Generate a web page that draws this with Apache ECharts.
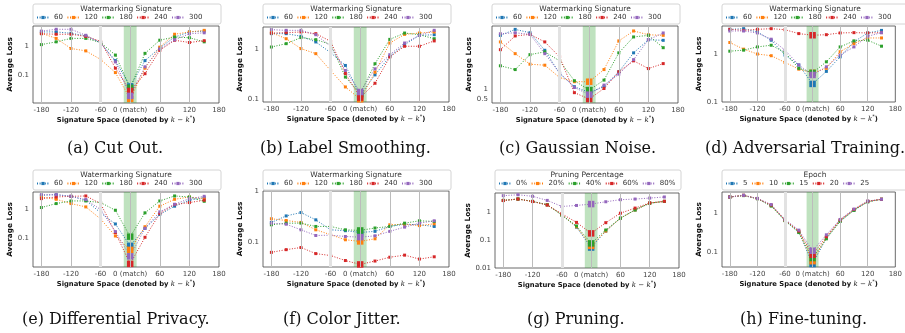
<!DOCTYPE html>
<html>
<head>
<meta charset="utf-8">
<script src="https://cdn.jsdelivr.net/npm/echarts@6/dist/echarts.min.js"></script>
<style>
  html, body { margin: 0; padding: 0; background: #fff; }
  #chart { width: 905px; height: 333px; }
</style>
</head>
<body>
<div id="chart"></div>
<script>
// signature offsets k - k*
const xSteps = [-180, -150, -120, -90, -60, -30, 0, 30, 60, 90, 120, 150];
const xTicks = [-180, -120, -60, 0, 60, 120, 180];
const guideLines = [-180, -120, -60, 0, 60, 120];

const sigNames = ['60', '120', '180', '240', '300'];
const pruneNames = ['0%', '20%', '40%', '60%', '80%'];
const epochNames = ['5', '10', '15', '20', '25'];
const colors = ['#1f77b4', '#ff7f0e', '#2ca02c', '#d62728', '#9467bd'];

// one row per legend entry
const cutOut = [
  [3.0, 3.0, 2.7, 2.2, 1.25, 0.31, 0.040, 0.31, 0.85, 2.0, 3.0, 3.2],
  [2.7, 1.8, 0.81, 0.67, 0.34, 0.12, 0.015, 0.17, 0.9, 2.5, 3.0, 3.4],
  [1.1, 1.37, 1.8, 1.8, 1.3, 0.48, 0.036, 0.55, 1.56, 2.0, 1.9, 1.37],
  [2.6, 2.5, 2.5, 2.1, 1.44, 0.17, 0.028, 0.11, 0.7, 1.55, 1.3, 1.5],
  [3.2, 3.7, 3.7, 2.3, 1.27, 0.28, 0.019, 0.19, 0.78, 1.6, 2.6, 2.8],
];
const labelSmoothing = [
  [2.1, 2.1, 1.86, 1.43, 0.87, 0.48, 0.12, 0.31, 0.73, 1.26, 1.94, 2.0],
  [2.2, 1.66, 1.05, 0.83, 0.38, 0.177, 0.10, 0.35, 1.36, 2.03, 2.16, 2.27],
  [1.13, 1.32, 1.75, 1.59, 1.28, 0.28, 0.13, 0.52, 1.61, 2.16, 2.0, 1.66],
  [2.16, 2.2, 2.27, 2.1, 1.47, 0.33, 0.108, 0.21, 0.71, 1.17, 1.17, 1.5],
  [2.53, 2.45, 2.45, 2.0, 1.17, 0.38, 0.14, 0.41, 0.79, 1.36, 1.94, 2.45],
];
const gaussianNoise = [
  [3.7, 4.0, 3.83, 2.95, 1.78, 1.12, 0.83, 1.12, 1.87, 2.82, 3.48, 3.45],
  [3.37, 2.78, 2.25, 2.2, 1.58, 1.37, 1.37, 1.98, 3.42, 3.92, 3.73, 3.7],
  [2.17, 1.98, 2.73, 2.87, 2.42, 1.42, 0.95, 1.45, 2.82, 3.62, 3.7, 3.08],
  [2.98, 3.67, 3.75, 3.37, 2.62, 0.82, 0.5, 1.03, 1.87, 2.42, 2.03, 2.28],
  [3.78, 3.83, 3.75, 2.78, 1.82, 1.08, 0.72, 1.2, 1.75, 2.48, 3.48, 3.82],
];
const adversarial = [
  [3.37, 3.48, 2.96, 1.99, 0.97, 0.6, 0.24, 0.44, 0.89, 1.84, 2.83, 3.2],
  [1.78, 1.29, 1.02, 0.94, 0.68, 0.49, 0.41, 0.51, 1.14, 1.69, 2.22, 2.22],
  [1.17, 1.23, 1.44, 1.56, 1.1, 0.51, 0.41, 0.7, 1.44, 1.93, 1.99, 1.49],
  [3.37, 3.2, 3.37, 3.48, 3.31, 2.74, 2.53, 2.6, 2.83, 2.87, 2.83, 2.87],
  [3.11, 3.11, 2.83, 2.09, 1.23, 0.6, 0.37, 0.55, 0.97, 1.44, 2.41, 2.87],
];
const diffPrivacy = [
  [3.0, 3.16, 2.77, 2.03, 0.75, 0.31, 0.055, 0.22, 0.66, 1.27, 2.03, 2.5],
  [2.63, 2.19, 1.56, 1.2, 0.46, 0.12, 0.04, 0.25, 1.27, 2.19, 2.63, 2.31],
  [1.14, 1.56, 1.92, 1.92, 1.69, 0.92, 0.114, 0.75, 1.92, 2.85, 2.63, 1.87],
  [2.31, 2.63, 2.77, 2.85, 1.56, 0.156, 0.0132, 0.108, 0.71, 1.44, 1.69, 2.03],
  [3.16, 3.16, 2.77, 2.14, 0.97, 0.17, 0.024, 0.22, 0.81, 1.48, 2.31, 2.77],
];
const colorJitter = [
  [0.245, 0.33, 0.385, 0.276, 0.175, 0.168, 0.155, 0.163, 0.204, 0.226, 0.22, 0.204],
  [0.29, 0.268, 0.245, 0.175, 0.14, 0.111, 0.103, 0.116, 0.22, 0.226, 0.212, 0.23],
  [0.22, 0.237, 0.237, 0.204, 0.204, 0.175, 0.17, 0.19, 0.204, 0.237, 0.264, 0.256],
  [0.0625, 0.0707, 0.078, 0.059, 0.054, 0.043, 0.036, 0.042, 0.05, 0.055, 0.046, 0.051],
  [0.237, 0.226, 0.175, 0.135, 0.137, 0.129, 0.125, 0.133, 0.163, 0.198, 0.237, 0.264],
];
const pruning = [
  [2.64, 2.95, 2.43, 1.84, 0.8, 0.29, 0.054, 0.21, 0.61, 1.2, 2.1, 2.43],
  [2.64, 2.95, 2.43, 1.84, 0.8, 0.30, 0.062, 0.21, 0.61, 1.2, 2.1, 2.43],
  [2.64, 2.95, 2.43, 1.84, 0.78, 0.32, 0.076, 0.23, 0.61, 1.2, 2.1, 2.43],
  [2.6, 2.95, 2.4, 1.8, 0.87, 0.43, 0.174, 0.42, 0.92, 1.4, 2.15, 2.45],
  [3.9, 4.2, 3.7, 2.64, 1.6, 1.74, 1.95, 2.36, 2.8, 2.95, 3.2, 3.5],
];
const fineTuning = [
  [2.67, 2.95, 2.42, 1.6, 0.66, 0.33, 0.049, 0.23, 0.64, 1.22, 2.02, 2.33],
  [2.67, 2.95, 2.42, 1.62, 0.67, 0.34, 0.058, 0.24, 0.66, 1.25, 2.05, 2.33],
  [2.67, 2.9, 2.42, 1.55, 0.65, 0.32, 0.07, 0.22, 0.62, 1.2, 2.0, 2.33],
  [2.67, 2.95, 2.45, 1.65, 0.68, 0.35, 0.085, 0.25, 0.68, 1.27, 2.07, 2.33],
  [2.67, 2.95, 2.45, 1.7, 0.7, 0.37, 0.108, 0.28, 0.7, 1.3, 2.1, 2.33],
];

// 面板布局
const panels = [
  { rows: cutOut, names: sigNames, title: 'Watermarking Signature', caption: '(a) Cut Out.', log: true, yMin: 0.0108, yMax: 4.8, yLabels: [0.1, 1], left: 33, top: 26, w: 186, h: 77, capX: 67 },
  { rows: labelSmoothing, names: sigNames, title: 'Watermarking Signature', caption: '(b) Label Smoothing.', log: true, yMin: 0.088, yMax: 2.86, yLabels: [0.1, 1], left: 263, top: 27, w: 186, h: 75, capX: 260 },
  { rows: gaussianNoise, names: sigNames, title: 'Watermarking Signature', caption: '(c) Gaussian Noise.', log: false, yMin: 0.3, yMax: 4.17, yLabels: [0.5, 1], left: 492, top: 26, w: 186, h: 77, capX: 499 },
  { rows: adversarial, names: sigNames, title: 'Watermarking Signature', caption: '(d) Adversarial Training.', log: true, yMin: 0.1, yMax: 3.96, yLabels: [0.1, 1], left: 722, top: 26, w: 186, h: 76, capX: 705 },
  { rows: diffPrivacy, names: sigNames, title: 'Watermarking Signature', caption: '(e) Differential Privacy.', log: true, yMin: 0.0103, yMax: 3.9, yLabels: [0.1, 1], left: 33, top: 192, w: 186, h: 75, capX: 22 },
  { rows: colorJitter, names: sigNames, title: 'Watermarking Signature', caption: '(f) Color Jitter.', log: true, yMin: 0.032, yMax: 1.03, yLabels: [0.1, 1], left: 263, top: 191, w: 186, h: 76, capX: 283 },
  { rows: pruning, names: pruneNames, title: 'Pruning Percentage', caption: '(g) Pruning.', log: true, yMin: 0.01, yMax: 4.86, yLabels: [0.01, 0.1, 1], left: 495, top: 193, w: 184, h: 75, capX: 527 },
  { rows: fineTuning, names: epochNames, title: 'Epoch', caption: '(h) Fine-tuning.', log: true, yMin: 0.041, yMax: 3.6, yLabels: [0.1, 1], left: 722, top: 192, w: 186, h: 75, capX: 740 },
];

const sans = '"DejaVu Sans", sans-serif';

function pickLabel(labels, v) {
  for (const l of labels) {
    if (Math.abs(v - l) < l * 1e-6) return String(l);
  }
  return '';
}

const grid = [];
const xAxis = [];
const yAxis = [];
const legend = [];
const series = [];
const graphic = [];

panels.forEach((p, i) => {
  const row = i < 4 ? 0 : 1;
  const boxTop = row === 0 ? 4 : 170;

  grid.push({
    left: p.left, top: p.top, width: p.w, height: p.h,
    show: true, borderColor: '#444', borderWidth: 0.8, backgroundColor: '#fff',
  });

  xAxis.push({
    type: 'value', gridIndex: i, min: -197, max: 180,
    axisLine: { show: false }, axisTick: { show: false }, splitLine: { show: false },
    axisLabel: {
      customValues: xTicks,
      formatter: v => (v === 0 ? '0 (match)' : String(v)),
      fontSize: 7, color: '#444', fontFamily: sans, margin: 4,
    },
    name: '{b|Signature Space (denoted by }{i|k − k}{s|*}{b|)}',
    nameLocation: 'middle', nameGap: 12,
    nameTextStyle: {
      rich: {
        b: { fontSize: 6.8, fontWeight: 'bold', fontFamily: sans, color: '#111' },
        i: { fontSize: 7, fontStyle: 'italic', fontFamily: '"DejaVu Serif", serif', color: '#111' },
        s: { fontSize: 5, fontFamily: sans, color: '#111', padding: [0, 0, 5, 0] },
      },
    },
  });

  const yLabel = {
    formatter: v => pickLabel(p.yLabels, v),
    fontSize: 7, color: '#444', fontFamily: sans, margin: 4,
  };
  if (!p.log) yLabel.customValues = p.yLabels;

  yAxis.push({
    type: p.log ? 'log' : 'value', logBase: 10, gridIndex: i,
    min: p.yMin, max: p.yMax,
    axisLine: { show: false }, axisTick: { show: false }, splitLine: { show: false },
    axisLabel: yLabel,
    name: 'Average Loss', nameLocation: 'middle', nameGap: 14,
    nameTextStyle: { fontSize: 7.3, fontWeight: 'bold', fontFamily: sans, color: '#111' },
  });

  legend.push({
    data: p.names, left: p.left + 3, top: boxTop + 10,
    itemWidth: 12, itemHeight: 4, itemGap: 3.5, padding: 0,
    selectedMode: false,
    textStyle: { fontSize: 7, color: '#333', fontFamily: sans, width: 23 },
  });

  // guide lines and the green "match" band
  series.push({
    type: 'line', xAxisIndex: i, yAxisIndex: i, data: [], silent: true, z: 1,
    markArea: {
      silent: true,
      itemStyle: { color: 'rgba(44,160,44,0.3)' },
      data: [[{ xAxis: -13 }, { xAxis: 13 }]],
    },
    markLine: {
      silent: true, symbol: 'none', label: { show: false }, animation: false,
      data: guideLines.map(v => ({
        xAxis: v,
        lineStyle: v === -60
          ? { color: '#e2e2e2', width: 3, type: 'solid' }
          : { color: '#bcbcbc', width: 1, type: 'solid' },
      })),
    },
  });

  p.rows.forEach((vals, k) => {
    series.push({
      type: 'line', name: p.names[k], xAxisIndex: i, yAxisIndex: i, z: 3,
      data: xSteps.map((x, j) => [x, vals[j]]),
      symbol: 'rect',
      symbolSize: (v, params) => (params.dataIndex === 6 ? 6.5 : 3),
      lineStyle: { color: colors[k], width: 1, type: [1, 1.6] },
      itemStyle: { color: colors[k] },
      emphasis: { disabled: true },
    });
  });

  graphic.push({
    type: 'rect', z: 0,
    shape: { x: p.left, y: boxTop, width: p.w + 2, height: 20, r: 2 },
    style: { fill: '#fff', stroke: '#d4d4d4', lineWidth: 1 },
  });
  graphic.push({
    type: 'text', z: 5, x: p.left + p.w / 2, y: boxTop + 5.5,
    style: {
      text: p.title, fill: '#333', font: '7.5px ' + sans,
      align: 'center', verticalAlign: 'middle', textAlign: 'center', textVerticalAlign: 'middle',
    },
  });
  graphic.push({
    type: 'text', z: 5, x: p.capX, y: row === 0 ? 149 : 320,
    style: {
      text: p.caption, fill: '#111', font: '16px "DejaVu Serif", serif',
      align: 'left', verticalAlign: 'middle', textAlign: 'left', textVerticalAlign: 'middle',
    },
  });
});

const myChart = echarts.init(document.getElementById('chart'), null, { renderer: 'canvas' });
myChart.setOption({
  animation: false,
  color: colors,
  grid, xAxis, yAxis, legend, series, graphic,
});
</script>
</body>
</html>
